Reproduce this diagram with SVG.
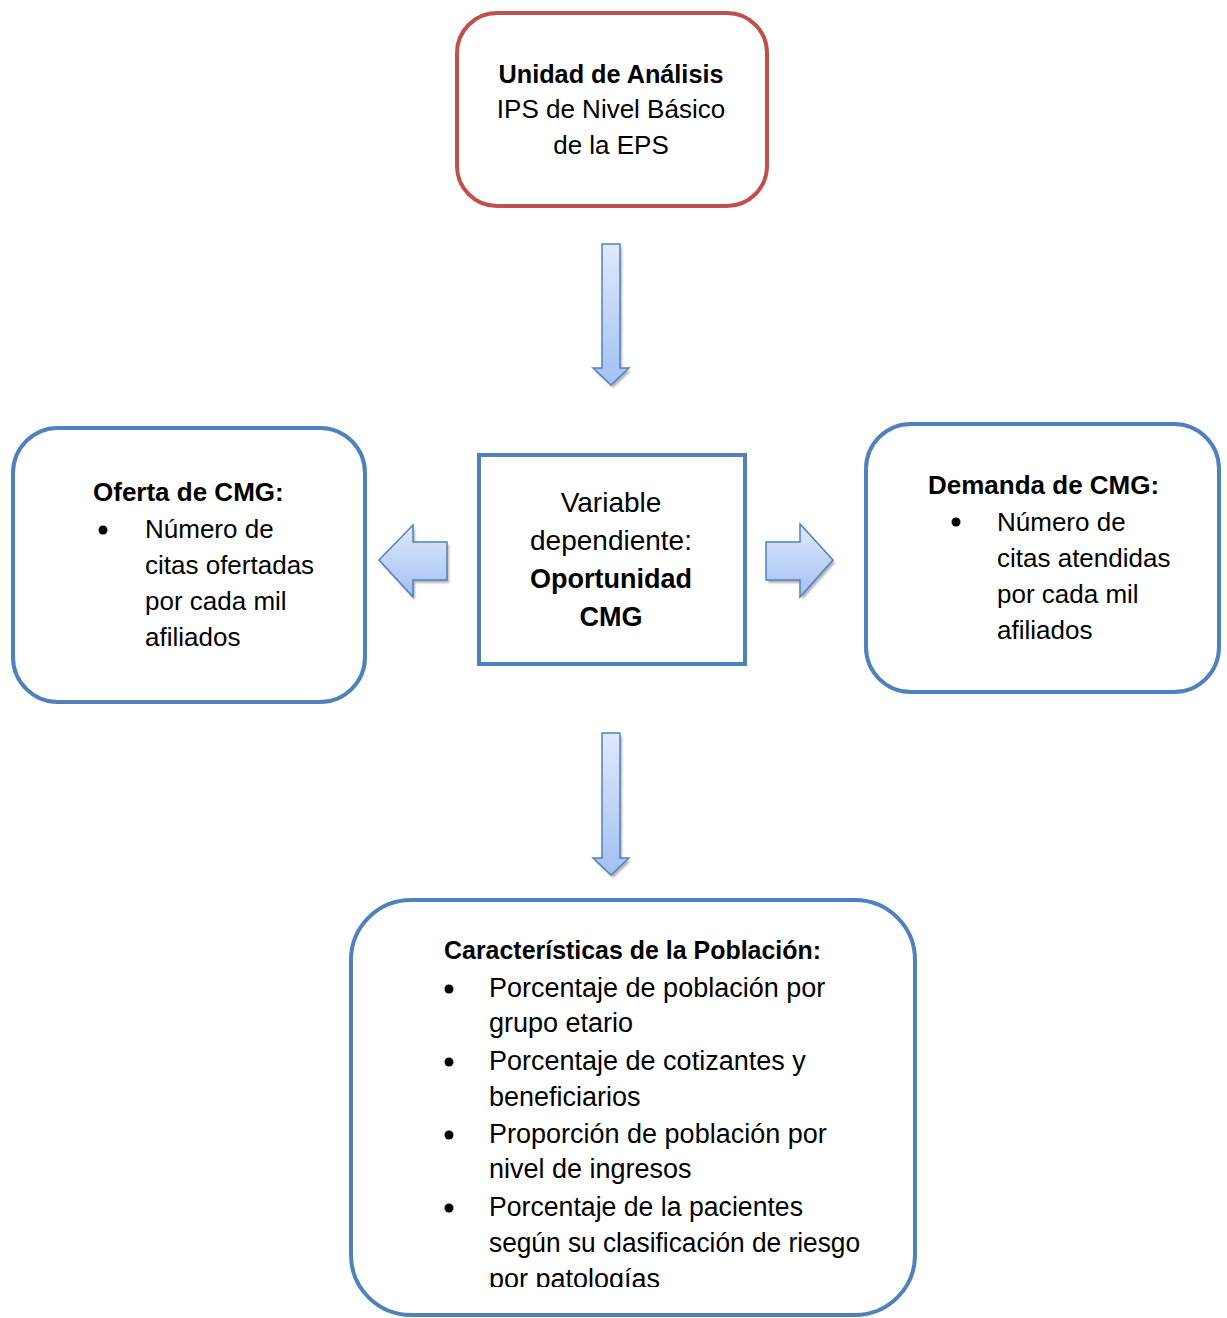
<svg xmlns="http://www.w3.org/2000/svg" width="1227" height="1318" viewBox="0 0 1227 1318">
<style>
.t{font-family:"Liberation Sans",Arial,sans-serif;fill:#000;}
.r{font-size:26px;}
.b{font-weight:bold;}
.c{text-anchor:middle;}
.node{fill:#fff;stroke:#4F81BD;stroke-width:4;}
.arr{fill:url(#ag);stroke:#4F81BD;stroke-width:1.5;stroke-linejoin:miter;}
.sh{fill:#9a9a9a;opacity:0.75;}
</style>
<defs>
<linearGradient id="ag" x1="0" y1="0" x2="0" y2="1">
<stop offset="0" stop-color="#dfe9fc"/>
<stop offset="1" stop-color="#a2c0f3"/>
</linearGradient>
<filter id="blur" x="-20%" y="-20%" width="140%" height="140%"><feGaussianBlur stdDeviation="1"/></filter>
<clipPath id="bclip"><rect x="340" y="890" width="600" height="397"/></clipPath>
</defs>

<g id="connectors">
  <g id="arrow-top">
    <path class="sh" filter="url(#blur)" transform="translate(2,3)" d="M602,244 H620 V368 H629 L611,385 L593,368 H602 Z"/>
    <path class="arr" d="M602,244 H620 V368 H629 L611,385 L593,368 H602 Z"/>
  </g>
  <g id="arrow-left">
    <path class="sh" filter="url(#blur)" transform="translate(2,3)" d="M447,542 V580 H413 V597 L379,560 L413,525 V542 Z"/>
    <path class="arr" d="M447,542 V580 H413 V597 L379,560 L413,525 V542 Z"/>
  </g>
  <g id="arrow-right">
    <path class="sh" filter="url(#blur)" transform="translate(2,3)" d="M766,542 V580 H800 V597 L833,560 L800,524 V542 Z"/>
    <path class="arr" d="M766,542 V580 H800 V597 L833,560 L800,524 V542 Z"/>
  </g>
  <g id="arrow-bottom">
    <path class="sh" filter="url(#blur)" transform="translate(2,3)" d="M602,733 H620 V858 H629 L611,875 L593,858 H602 Z"/>
    <path class="arr" d="M602,733 H620 V858 H629 L611,875 L593,858 H602 Z"/>
  </g>
</g>

<g id="node-unidad">
  <rect x="457" y="13" width="310" height="193" rx="40" ry="40" fill="#fff" stroke="#C0504D" stroke-width="4"/>
  <text class="t r b c" x="611" y="83" textLength="225" lengthAdjust="spacingAndGlyphs">Unidad de Análisis</text>
  <text class="t r c" x="611" y="118">IPS de Nivel Básico</text>
  <text class="t r c" x="611" y="154">de la EPS</text>
</g>

<g id="node-variable">
  <rect class="node" x="479" y="455" width="266" height="209"/>
  <text class="t c" style="font-size:28px" x="611" y="512">Variable</text>
  <text class="t c" style="font-size:28px" x="611" y="550">dependiente:</text>
  <text class="t b c" style="font-size:27px" x="611" y="588">Oportunidad</text>
  <text class="t b c" style="font-size:27px" x="611" y="626">CMG</text>
</g>

<g id="node-oferta">
  <rect class="node" x="13" y="428" width="352" height="274" rx="45" ry="45"/>
  <text class="t r b" x="93" y="501">Oferta de CMG:</text>
  <circle cx="103" cy="530" r="4.5" fill="#000"/>
  <text class="t r" x="145" y="538">Número de</text>
  <text class="t r" x="145" y="574">citas ofertadas</text>
  <text class="t r" x="145" y="610">por cada mil</text>
  <text class="t r" x="145" y="646">afiliados</text>
</g>

<g id="node-demanda">
  <rect class="node" x="866" y="424" width="353" height="268" rx="45" ry="45"/>
  <text class="t r b" x="928" y="494">Demanda de CMG:</text>
  <circle cx="956" cy="522" r="4.5" fill="#000"/>
  <text class="t r" x="997" y="531">Número de</text>
  <text class="t r" x="997" y="567">citas atendidas</text>
  <text class="t r" x="997" y="603">por cada mil</text>
  <text class="t r" x="997" y="639">afiliados</text>
</g>

<g id="node-poblacion">
  <rect class="node" x="351" y="900" width="564" height="415" rx="60" ry="60"/>
  <g clip-path="url(#bclip)">
    <text class="t r b" x="444" y="959" textLength="377" lengthAdjust="spacingAndGlyphs">Características de la Población:</text>
    <circle cx="449" cy="989" r="4.5" fill="#000"/>
    <text class="t" style="font-size:27px" x="489" y="997">Porcentaje de población por</text>
    <text class="t" style="font-size:27px" x="489" y="1032">grupo etario</text>
    <circle cx="449" cy="1062" r="4.5" fill="#000"/>
    <text class="t" style="font-size:27px" x="489" y="1070">Porcentaje de cotizantes y</text>
    <text class="t" style="font-size:27px" x="489" y="1106">beneficiarios</text>
    <circle cx="449" cy="1135" r="4.5" fill="#000"/>
    <text class="t" style="font-size:27px" x="489" y="1143">Proporción de población por</text>
    <text class="t" style="font-size:27px" x="489" y="1178">nivel de ingresos</text>
    <circle cx="449" cy="1208" r="4.5" fill="#000"/>
    <text class="t" style="font-size:27px" x="489" y="1216" textLength="314" lengthAdjust="spacingAndGlyphs">Porcentaje de la pacientes</text>
    <text class="t" style="font-size:27px" x="489" y="1252" textLength="371" lengthAdjust="spacingAndGlyphs">según su clasificación de riesgo</text>
    <text class="t" style="font-size:27px" x="489" y="1288">por patologías</text>
  </g>
</g>
</svg>
